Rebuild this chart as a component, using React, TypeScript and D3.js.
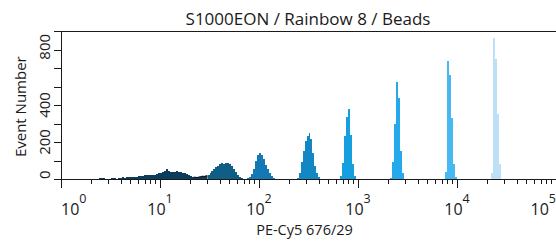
import { useEffect, useRef } from 'react'
import * as d3 from 'd3'

// histogram channels: channel i spans 10^(i*0.02) .. 10^((i+1)*0.02)
const channelLog = 0.02

const pop1Start = 19
const pop1Counts = [4, 7, 5, 1, 0, 1, 3, 6, 5, 2, 4, 8, 9, 8, 10, 11, 10, 12, 11, 13, 15, 14, 18, 20, 19, 22, 21, 23, 22, 28, 30, 33, 40, 44, 52, 45, 40, 36, 38, 43, 36, 38, 34, 30, 25, 22, 17, 13]
const ungatedStart = 67
const ungatedCounts = [10, 8, 10, 12, 15, 14, 17]
const pop2Start = 74
const pop2Counts = [20, 30, 42, 55, 63, 72, 80, 86, 82, 86, 88, 82, 68, 52, 36, 22, 10, 4]
const pop3Start = 94
const pop3Counts = [4, 12, 25, 55, 100, 132, 142, 132, 108, 78, 52, 32, 15, 5]
const pop4Start = 119
const pop4Counts = [3, 30, 90, 150, 205, 235, 248, 215, 140, 70, 30, 10]
const pop5Start = 141
const pop5Counts = [15, 85, 230, 335, 378, 240, 80, 15]
const pop6Start = 166
const pop6Counts = [5, 90, 300, 525, 440, 150, 30]
const pop7Start = 194
const pop7Counts = [40, 640, 560, 330, 80, 10]
const pop8Start = 217
const pop8Counts = [30, 760, 650, 350, 80]

const populationColors = ['#0d3d5c', '#0f5e86', '#1378b3', '#1287c4', '#169fdf', '#23a9ec', '#47b8f2', '#bde0f8']

const yLabels = [0, 200, 400, 800]
const xDecades = [0, 1, 2, 3, 4, 5]

export default function App() {
  const svgRef = useRef<SVGSVGElement>(null)

  useEffect(() => {
    if (!svgRef.current) return
    const svg = d3.select(svgRef.current)
    svg.selectAll('*').remove()

    const width = 556
    const height = 241
    const left = 61, right = 556, top = 31, bottom = 179
    const font = '"Open Sans", sans-serif'
    const ink = '#1a1a1a'

    const x = d3.scaleLog().domain([1, 1e5]).range([left, right])
    const y = d3.scaleLinear().domain([0, 800]).range([bottom, top])

    const toPoints = (start: number, counts: number[]) => {
      const pts: [number, number][] = counts.map((c, i) => [10 ** ((start + i) * channelLog), c])
      pts.push([10 ** ((start + counts.length) * channelLog), counts[counts.length - 1]])
      return pts
    }

    const area = d3.area<[number, number]>()
      .x(d => x(d[0]))
      .y0(y(0))
      .y1(d => y(d[1]))
      .curve(d3.curveStepAfter)

    const line = d3.line<[number, number]>()
      .x(d => x(d[0]))
      .y(d => y(d[1]))
      .curve(d3.curveStepAfter)

    const populations = [
      [pop1Start, pop1Counts], [pop2Start, pop2Counts], [pop3Start, pop3Counts], [pop4Start, pop4Counts],
      [pop5Start, pop5Counts], [pop6Start, pop6Counts], [pop7Start, pop7Counts], [pop8Start, pop8Counts],
    ] as [number, number[]][]

    // ungated events between the first two gates
    const ungated = toPoints(ungatedStart, ungatedCounts)
    svg.append('path').attr('d', area(ungated)).attr('fill', populationColors[0])
    svg.append('path').attr('d', line(ungated)).attr('fill', 'none').attr('stroke', '#000').attr('stroke-width', 1)

    populations.forEach(([start, counts], i) => {
      svg.append('path')
        .attr('d', area(toPoints(start, counts)))
        .attr('fill', populationColors[i])
        .attr('shape-rendering', 'crispEdges')
    })

    // frame
    svg.append('line').attr('x1', left).attr('x2', right).attr('y1', top + 0.5).attr('y2', top + 0.5)
      .attr('stroke', ink).attr('stroke-width', 1)
    svg.append('line').attr('x1', left).attr('x2', right).attr('y1', bottom + 0.5).attr('y2', bottom + 0.5)
      .attr('stroke', ink).attr('stroke-width', 1)
    svg.append('line').attr('x1', left + 0.5).attr('x2', left + 0.5).attr('y1', top).attr('y2', bottom + 9)
      .attr('stroke', ink).attr('stroke-width', 1)

    // x ticks
    x.ticks().forEach(t => {
      const major = Number.isInteger(Math.round(Math.log10(t) * 1e6) / 1e6)
      const px = Math.round(x(t)) + 0.5
      svg.append('line').attr('x1', px).attr('x2', px)
        .attr('y1', bottom).attr('y2', bottom + (major ? 9 : 5))
        .attr('stroke', ink).attr('stroke-width', 1)
    })

    xDecades.forEach((d, i) => {
      const anchor = i === 0 ? 'start' : i === xDecades.length - 1 ? 'end' : 'middle'
      const t = svg.append('text')
        .attr('x', x(10 ** d)).attr('y', 214.8)
        .attr('text-anchor', anchor)
        .style('font-family', font).style('font-size', '16px').style('fill', ink)
      t.append('tspan').text('10')
      t.append('tspan').attr('dy', -12).style('font-size', '12.5px').text(String(d))
    })

    // y ticks
    y.ticks(8).forEach(t => {
      const py = Math.round(y(t)) + 0.5
      svg.append('line').attr('x1', left - 7).attr('x2', left).attr('y1', py).attr('y2', py)
        .attr('stroke', ink).attr('stroke-width', 1)
    })

    yLabels.forEach(v => {
      const w = String(v).length * 0.57 * 15
      const cy = Math.min(Math.max(y(v), top + w / 2 + 3), bottom - w / 2)
      svg.append('text')
        .attr('transform', `translate(50,${cy}) rotate(-90)`)
        .attr('text-anchor', 'middle')
        .style('font-family', font).style('font-size', '15px').style('fill', ink)
        .text(String(v))
    })

    // titles
    svg.append('text')
      .attr('x', 308).attr('y', 24.8).attr('text-anchor', 'middle')
      .style('font-family', font).style('font-size', '17px').style('fill', ink)
      .text('S1000EON / Rainbow 8 / Beads')

    svg.append('text')
      .attr('x', 304.5).attr('y', 235).attr('text-anchor', 'middle')
      .style('font-family', font).style('font-size', '14.5px').style('fill', ink)
      .text('PE-Cy5 676/29')

    svg.append('text')
      .attr('transform', `translate(26,106.7) rotate(-90)`)
      .attr('text-anchor', 'middle')
      .style('font-family', font).style('font-size', '15px').style('fill', ink)
      .text('Event Number')

    svg.attr('width', width).attr('height', height)
  }, [])

  return (
    <div style={{ position: 'absolute', left: 0, top: 0 }}>
      <svg ref={svgRef} width={556} height={241} style={{ display: 'block', background: '#fff' }}></svg>
    </div>
  )
}
